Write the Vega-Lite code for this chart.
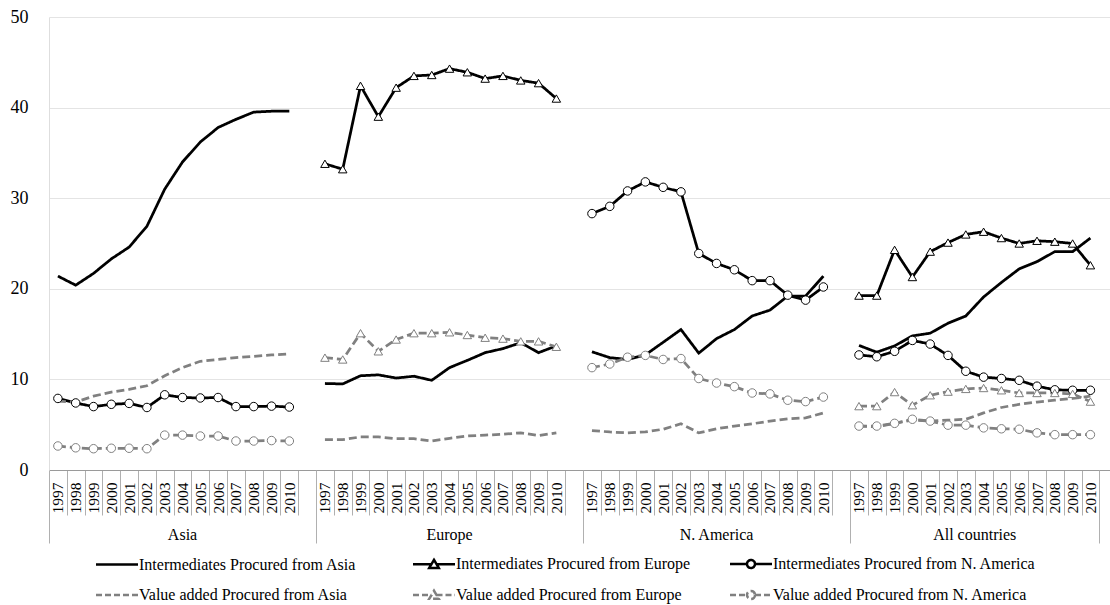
{
  "$schema": "https://vega.github.io/schema/vega-lite/v6.json",
  "width": 1061,
  "height": 453,
  "padding": {"left": 10, "top": 8, "right": 0, "bottom": 0},
  "config": {
    "view": {"stroke": null},
    "font": "Liberation Serif, Times New Roman, serif",
    "axis": {"labelFont": "Liberation Serif, Times New Roman, serif", "titleFont": "Liberation Serif, Times New Roman, serif"},
    "legend": {"labelFont": "Liberation Serif, Times New Roman, serif"}
  },
  "data": {
    "values": [
      {"r": "Asia", "k": "Asia|1997", "IA": 21.4, "IN": 7.9, "VA": 7.6, "VN": 2.65},
      {"r": "Asia", "k": "Asia|1998", "IA": 20.4, "IN": 7.4, "VA": 7.5, "VN": 2.45},
      {"r": "Asia", "k": "Asia|1999", "IA": 21.7, "IN": 7.0, "VA": 8.15, "VN": 2.35},
      {"r": "Asia", "k": "Asia|2000", "IA": 23.3, "IN": 7.25, "VA": 8.6, "VN": 2.4},
      {"r": "Asia", "k": "Asia|2001", "IA": 24.6, "IN": 7.35, "VA": 8.9, "VN": 2.4},
      {"r": "Asia", "k": "Asia|2002", "IA": 26.9, "IN": 6.9, "VA": 9.3, "VN": 2.35},
      {"r": "Asia", "k": "Asia|2003", "IA": 31.0, "IN": 8.3, "VA": 10.4, "VN": 3.85},
      {"r": "Asia", "k": "Asia|2004", "IA": 34.0, "IN": 8.0, "VA": 11.3, "VN": 3.85},
      {"r": "Asia", "k": "Asia|2005", "IA": 36.2, "IN": 7.95, "VA": 12.0, "VN": 3.75},
      {"r": "Asia", "k": "Asia|2006", "IA": 37.8, "IN": 8.0, "VA": 12.2, "VN": 3.75},
      {"r": "Asia", "k": "Asia|2007", "IA": 38.7, "IN": 7.0, "VA": 12.4, "VN": 3.2},
      {"r": "Asia", "k": "Asia|2008", "IA": 39.5, "IN": 7.0, "VA": 12.55, "VN": 3.2},
      {"r": "Asia", "k": "Asia|2009", "IA": 39.6, "IN": 7.05, "VA": 12.7, "VN": 3.25},
      {"r": "Asia", "k": "Asia|2010", "IA": 39.6, "IN": 6.95, "VA": 12.8, "VN": 3.2},
      {"r": "Europe", "k": "Europe|1997", "IA": 9.55, "IE": 33.8, "VA": 3.35, "VE": 12.4},
      {"r": "Europe", "k": "Europe|1998", "IA": 9.5, "IE": 33.2, "VA": 3.35, "VE": 12.2},
      {"r": "Europe", "k": "Europe|1999", "IA": 10.4, "IE": 42.4, "VA": 3.65, "VE": 15.1},
      {"r": "Europe", "k": "Europe|2000", "IA": 10.5, "IE": 39.0, "VA": 3.65, "VE": 13.1},
      {"r": "Europe", "k": "Europe|2001", "IA": 10.15, "IE": 42.2, "VA": 3.45, "VE": 14.4},
      {"r": "Europe", "k": "Europe|2002", "IA": 10.35, "IE": 43.5, "VA": 3.45, "VE": 15.1},
      {"r": "Europe", "k": "Europe|2003", "IA": 9.9, "IE": 43.6, "VA": 3.2, "VE": 15.1},
      {"r": "Europe", "k": "Europe|2004", "IA": 11.3, "IE": 44.3, "VA": 3.5, "VE": 15.2},
      {"r": "Europe", "k": "Europe|2005", "IA": 12.1, "IE": 43.9, "VA": 3.75, "VE": 14.9},
      {"r": "Europe", "k": "Europe|2006", "IA": 12.95, "IE": 43.2, "VA": 3.85, "VE": 14.6},
      {"r": "Europe", "k": "Europe|2007", "IA": 13.4, "IE": 43.5, "VA": 3.95, "VE": 14.5},
      {"r": "Europe", "k": "Europe|2008", "IA": 14.05, "IE": 43.0, "VA": 4.1, "VE": 14.2},
      {"r": "Europe", "k": "Europe|2009", "IA": 12.95, "IE": 42.7, "VA": 3.8, "VE": 14.2},
      {"r": "Europe", "k": "Europe|2010", "IA": 13.7, "IE": 41.0, "VA": 4.1, "VE": 13.6},
      {"r": "N. America", "k": "N. America|1997", "IA": 13.05, "IN": 28.3, "VA": 4.35, "VN": 11.3},
      {"r": "N. America", "k": "N. America|1998", "IA": 12.4, "IN": 29.1, "VA": 4.2, "VN": 11.7},
      {"r": "N. America", "k": "N. America|1999", "IA": 12.2, "IN": 30.8, "VA": 4.1, "VN": 12.45},
      {"r": "N. America", "k": "N. America|2000", "IA": 12.7, "IN": 31.8, "VA": 4.2, "VN": 12.65},
      {"r": "N. America", "k": "N. America|2001", "IA": 14.1, "IN": 31.2, "VA": 4.5, "VN": 12.2},
      {"r": "N. America", "k": "N. America|2002", "IA": 15.5, "IN": 30.7, "VA": 5.1, "VN": 12.3},
      {"r": "N. America", "k": "N. America|2003", "IA": 12.9, "IN": 23.9, "VA": 4.1, "VN": 10.1},
      {"r": "N. America", "k": "N. America|2004", "IA": 14.5, "IN": 22.8, "VA": 4.55, "VN": 9.6},
      {"r": "N. America", "k": "N. America|2005", "IA": 15.5, "IN": 22.1, "VA": 4.85, "VN": 9.2},
      {"r": "N. America", "k": "N. America|2006", "IA": 17.0, "IN": 20.9, "VA": 5.1, "VN": 8.5},
      {"r": "N. America", "k": "N. America|2007", "IA": 17.65, "IN": 20.9, "VA": 5.4, "VN": 8.4},
      {"r": "N. America", "k": "N. America|2008", "IA": 19.2, "IN": 19.3, "VA": 5.65, "VN": 7.7},
      {"r": "N. America", "k": "N. America|2009", "IA": 19.2, "IN": 18.75, "VA": 5.75, "VN": 7.55},
      {"r": "N. America", "k": "N. America|2010", "IA": 21.4, "IN": 20.2, "VA": 6.3, "VN": 8.05},
      {"r": "All countries", "k": "All countries|1997", "IA": 13.75, "IE": 19.25, "IN": 12.7, "VA": 4.85, "VE": 7.05, "VN": 4.85},
      {"r": "All countries", "k": "All countries|1998", "IA": 13.0, "IE": 19.25, "IN": 12.5, "VA": 4.75, "VE": 7.05, "VN": 4.85},
      {"r": "All countries", "k": "All countries|1999", "IA": 13.7, "IE": 24.3, "IN": 13.1, "VA": 5.15, "VE": 8.6, "VN": 5.15},
      {"r": "All countries", "k": "All countries|2000", "IA": 14.8, "IE": 21.3, "IN": 14.3, "VA": 5.5, "VE": 7.15, "VN": 5.6},
      {"r": "All countries", "k": "All countries|2001", "IA": 15.1, "IE": 24.1, "IN": 13.9, "VA": 5.4, "VE": 8.25, "VN": 5.4},
      {"r": "All countries", "k": "All countries|2002", "IA": 16.2, "IE": 25.1, "IN": 12.65, "VA": 5.5, "VE": 8.65, "VN": 4.95},
      {"r": "All countries", "k": "All countries|2003", "IA": 17.0, "IE": 26.0, "IN": 10.9, "VA": 5.6, "VE": 8.95, "VN": 4.95},
      {"r": "All countries", "k": "All countries|2004", "IA": 19.1, "IE": 26.3, "IN": 10.25, "VA": 6.3, "VE": 9.05, "VN": 4.65},
      {"r": "All countries", "k": "All countries|2005", "IA": 20.7, "IE": 25.6, "IN": 10.1, "VA": 6.9, "VE": 8.8, "VN": 4.55},
      {"r": "All countries", "k": "All countries|2006", "IA": 22.2, "IE": 25.0, "IN": 9.9, "VA": 7.25, "VE": 8.5, "VN": 4.5},
      {"r": "All countries", "k": "All countries|2007", "IA": 23.0, "IE": 25.3, "IN": 9.25, "VA": 7.5, "VE": 8.5, "VN": 4.1},
      {"r": "All countries", "k": "All countries|2008", "IA": 24.1, "IE": 25.2, "IN": 8.85, "VA": 7.7, "VE": 8.5, "VN": 3.9},
      {"r": "All countries", "k": "All countries|2009", "IA": 24.1, "IE": 25.0, "IN": 8.8, "VA": 7.9, "VE": 8.4, "VN": 3.9},
      {"r": "All countries", "k": "All countries|2010", "IA": 25.6, "IE": 22.6, "IN": 8.8, "VA": 8.15, "VE": 7.55, "VN": 3.9}
    ]
  },
  "transform": [
    {"fold": ["IA", "IE", "IN", "VA", "VE", "VN"], "as": ["s", "v"]},
    {"filter": "isValid(datum.v)"}
  ],
  "encoding": {
    "y": {
      "field": "v",
      "type": "quantitative",
      "scale": {"domain": [0, 50], "nice": false, "zero": true},
      "axis": {
        "values": [0, 10, 20, 30, 40, 50],
        "title": null,
        "ticks": false,
        "grid": true,
        "gridColor": "#e4e4e4",
        "domainColor": "#dedede",
        "labelPadding": 21,
        "labelFontSize": 18,
        "labelColor": "#000"
      }
    }
  },
  "layer": [
    {
      "mark": {"type": "line", "strokeWidth": 2.75},
      "encoding": {
        "x": {
          "field": "k",
          "type": "ordinal",
          "scale": {
            "type": "band",
            "paddingInner": 0,
            "paddingOuter": 0.3,
            "align": 0,
            "domain": ["Asia|1997","Asia|1998","Asia|1999","Asia|2000","Asia|2001","Asia|2002","Asia|2003","Asia|2004","Asia|2005","Asia|2006","Asia|2007","Asia|2008","Asia|2009","Asia|2010","Asia|",
                       "Europe|1997","Europe|1998","Europe|1999","Europe|2000","Europe|2001","Europe|2002","Europe|2003","Europe|2004","Europe|2005","Europe|2006","Europe|2007","Europe|2008","Europe|2009","Europe|2010","Europe|",
                       "N. America|1997","N. America|1998","N. America|1999","N. America|2000","N. America|2001","N. America|2002","N. America|2003","N. America|2004","N. America|2005","N. America|2006","N. America|2007","N. America|2008","N. America|2009","N. America|2010","N. America|",
                       "All countries|1997","All countries|1998","All countries|1999","All countries|2000","All countries|2001","All countries|2002","All countries|2003","All countries|2004","All countries|2005","All countries|2006","All countries|2007","All countries|2008","All countries|2009","All countries|2010"]
          },
          "axis": {
            "title": null,
            "tickBand": "extent",
            "labelExpr": "split(datum.value, '|')[1]",
            "labelAngle": -90,
            "labelAlign": "right",
            "labelBaseline": "middle",
            "labelFontSize": 15.5,
            "labelColor": "#000",
            "labelPadding": -33,
            "labelOverlap": false,
            "labelBound": false,
            "tickSize": 45,
            "tickColor": "#b0b0b0",
            "domainColor": "#9a9a9a",
            "grid": false
          }
        },
        "color": {
          "field": "s",
          "type": "nominal",
          "scale": {"domain": ["IA","IE","IN","VA","VE","VN"], "range": ["#000000","#000000","#000000","#808080","#808080","#808080"]},
          "legend": null
        },
        "strokeDash": {
          "field": "s",
          "type": "nominal",
          "scale": {"domain": ["IA","IE","IN","VA","VE","VN"], "range": [[1,0],[1,0],[1,0],[8,4],[8,4],[8,4]]},
          "legend": null
        },
        "detail": {"field": "r"}
      }
    },
    {
      "transform": [{"filter": "datum.s != 'IA' && datum.s != 'VA'"}],
      "mark": {"type": "point", "filled": false, "fill": "white", "strokeWidth": 1, "size": 72, "opacity": 1},
      "encoding": {
        "x": {
          "field": "k",
          "type": "ordinal",
          "scale": {
            "type": "band",
            "paddingInner": 0,
            "paddingOuter": 0.3,
            "align": 0,
            "domain": ["Asia|1997","Asia|1998","Asia|1999","Asia|2000","Asia|2001","Asia|2002","Asia|2003","Asia|2004","Asia|2005","Asia|2006","Asia|2007","Asia|2008","Asia|2009","Asia|2010","Asia|",
                       "Europe|1997","Europe|1998","Europe|1999","Europe|2000","Europe|2001","Europe|2002","Europe|2003","Europe|2004","Europe|2005","Europe|2006","Europe|2007","Europe|2008","Europe|2009","Europe|2010","Europe|",
                       "N. America|1997","N. America|1998","N. America|1999","N. America|2000","N. America|2001","N. America|2002","N. America|2003","N. America|2004","N. America|2005","N. America|2006","N. America|2007","N. America|2008","N. America|2009","N. America|2010","N. America|",
                       "All countries|1997","All countries|1998","All countries|1999","All countries|2000","All countries|2001","All countries|2002","All countries|2003","All countries|2004","All countries|2005","All countries|2006","All countries|2007","All countries|2008","All countries|2009","All countries|2010"]
          },
          "axis": null
        },
        "color": {
          "field": "s",
          "type": "nominal",
          "scale": {"domain": ["IE","IN","VE","VN"], "range": ["#000000","#000000","#808080","#808080"]},
          "legend": null
        },
        "shape": {
          "field": "s",
          "type": "nominal",
          "scale": {"domain": ["IE","IN","VE","VN"], "range": ["triangle-up","circle","triangle-up","circle"]},
          "legend": null
        }
      }
    },
    {
      "transform": [{"filter": "datum.v < -999"}],
      "mark": {"type": "point", "filled": false, "fill": "white", "strokeWidth": 2.5, "opacity": 1},
      "encoding": {
        "x": {
          "field": "k",
          "type": "ordinal",
          "scale": {
            "type": "band",
            "paddingInner": 0,
            "paddingOuter": 0.3,
            "align": 0,
            "domain": ["Asia|1997","Asia|1998","Asia|1999","Asia|2000","Asia|2001","Asia|2002","Asia|2003","Asia|2004","Asia|2005","Asia|2006","Asia|2007","Asia|2008","Asia|2009","Asia|2010","Asia|",
                       "Europe|1997","Europe|1998","Europe|1999","Europe|2000","Europe|2001","Europe|2002","Europe|2003","Europe|2004","Europe|2005","Europe|2006","Europe|2007","Europe|2008","Europe|2009","Europe|2010","Europe|",
                       "N. America|1997","N. America|1998","N. America|1999","N. America|2000","N. America|2001","N. America|2002","N. America|2003","N. America|2004","N. America|2005","N. America|2006","N. America|2007","N. America|2008","N. America|2009","N. America|2010","N. America|",
                       "All countries|1997","All countries|1998","All countries|1999","All countries|2000","All countries|2001","All countries|2002","All countries|2003","All countries|2004","All countries|2005","All countries|2006","All countries|2007","All countries|2008","All countries|2009","All countries|2010"]
          },
          "axis": {
            "orient": "bottom",
            "title": null,
            "values": ["Asia|1997", "Europe|1997", "N. America|1997", "All countries|1997"],
            "bandPosition": 0,
            "labelExpr": "split(datum.value, '|')[0]",
            "ticks": true,
            "tickSize": 73,
            "tickColor": "#b0b0b0",
            "domain": false,
            "grid": false,
            "labelAngle": 0,
            "labelAlign": "center",
            "labelBaseline": "alphabetic",
            "labelPadding": -4,
            "labelFontSize": 16,
            "labelColor": "#000",
            "labelOverlap": false,
            "labelOffset": {"condition": {"test": "indexof(datum.value, 'All countries') >= 0", "value": 115.7}, "value": 124.6}
          }
        },
        "color": {
          "field": "s",
          "type": "nominal",
          "scale": {"domain": ["IA","IE","IN","VA","VE","VN"], "range": ["#000000","#000000","#000000","#808080","#808080","#808080"]},
          "legend": {
            "title": null, "orient": "none", "legendX": 45, "legendY": 539, "columns": 3, "direction": "horizontal", "gridAlign": "all",
            "symbolSize": 100, "symbolOffset": 15, "labelOffset": 14, "symbolStrokeWidth": 2.5, "symbolFillColor": "white",
            "labelFontSize": 16, "labelColor": "#000", "labelLimit": 0, "columnPadding": 6, "rowPadding": 12,
            "labelExpr": "{'IA': 'Intermediates Procured from Asia', 'IE': 'Intermediates Procured from Europe', 'IN': 'Intermediates Procured from N. America', 'VA': 'Value added Procured from Asia', 'VE': 'Value added Procured from Europe', 'VN': 'Value added Procured from N. America'}[datum.value]"
          }
        },
        "strokeDash": {
          "field": "s",
          "type": "nominal",
          "scale": {"domain": ["IA","IE","IN","VA","VE","VN"], "range": [[1,0],[1,0],[1,0],[6,3],[6,3],[6,3]]},
          "legend": {
            "title": null, "orient": "none", "legendX": 45, "legendY": 539, "columns": 3, "direction": "horizontal", "gridAlign": "all",
            "symbolSize": 100, "symbolOffset": 15, "labelOffset": 14, "symbolStrokeWidth": 2.5, "symbolFillColor": "white",
            "labelFontSize": 16, "labelColor": "#000", "labelLimit": 0, "columnPadding": 6, "rowPadding": 12,
            "labelExpr": "{'IA': 'Intermediates Procured from Asia', 'IE': 'Intermediates Procured from Europe', 'IN': 'Intermediates Procured from N. America', 'VA': 'Value added Procured from Asia', 'VE': 'Value added Procured from Europe', 'VN': 'Value added Procured from N. America'}[datum.value]"
          }
        },
        "shape": {
          "field": "s",
          "type": "nominal",
          "scale": {
            "domain": ["IA","IE","IN","VA","VE","VN"],
            "range": [
              "M-4.2,0L4.2,0",
              "M-4.2,0L-0.5,0M0.5,0L4.2,0M0,-0.85L0.95,0.75L-0.95,0.75Z",
              "M-4.2,0L-0.8,0M0.8,0L4.2,0M0.8,0A0.8,0.8,0,1,1,-0.8,0A0.8,0.8,0,1,1,0.8,0Z",
              "M-4.2,0L4.2,0",
              "M-4.2,0L-0.5,0M0.5,0L4.2,0M0,-0.85L0.95,0.75L-0.95,0.75Z",
              "M-4.2,0L-0.8,0M0.8,0L4.2,0M0.8,0A0.8,0.8,0,1,1,-0.8,0A0.8,0.8,0,1,1,0.8,0Z"
            ]
          },
          "legend": {
            "title": null, "orient": "none", "legendX": 45, "legendY": 539, "columns": 3, "direction": "horizontal", "gridAlign": "all",
            "symbolSize": 100, "symbolOffset": 15, "labelOffset": 14, "symbolStrokeWidth": 2.5, "symbolFillColor": "white",
            "labelFontSize": 16, "labelColor": "#000", "labelLimit": 0, "columnPadding": 6, "rowPadding": 12,
            "labelExpr": "{'IA': 'Intermediates Procured from Asia', 'IE': 'Intermediates Procured from Europe', 'IN': 'Intermediates Procured from N. America', 'VA': 'Value added Procured from Asia', 'VE': 'Value added Procured from Europe', 'VN': 'Value added Procured from N. America'}[datum.value]"
          }
        }
      }
    },
    {
      "transform": [{"filter": "datum.v < -999"}],
      "mark": {"type": "point"},
      "encoding": {
        "x": {
          "field": "k",
          "type": "ordinal",
          "scale": {
            "type": "band",
            "paddingInner": 0,
            "paddingOuter": 0.3,
            "align": 0,
            "domain": ["Asia|1997","Asia|1998","Asia|1999","Asia|2000","Asia|2001","Asia|2002","Asia|2003","Asia|2004","Asia|2005","Asia|2006","Asia|2007","Asia|2008","Asia|2009","Asia|2010","Asia|",
                       "Europe|1997","Europe|1998","Europe|1999","Europe|2000","Europe|2001","Europe|2002","Europe|2003","Europe|2004","Europe|2005","Europe|2006","Europe|2007","Europe|2008","Europe|2009","Europe|2010","Europe|",
                       "N. America|1997","N. America|1998","N. America|1999","N. America|2000","N. America|2001","N. America|2002","N. America|2003","N. America|2004","N. America|2005","N. America|2006","N. America|2007","N. America|2008","N. America|2009","N. America|2010","N. America|",
                       "All countries|1997","All countries|1998","All countries|1999","All countries|2000","All countries|2001","All countries|2002","All countries|2003","All countries|2004","All countries|2005","All countries|2006","All countries|2007","All countries|2008","All countries|2009","All countries|2010"]
          },
          "axis": {
            "orient": "bottom",
            "title": null,
            "values": ["All countries|2010"],
            "bandPosition": 1,
            "labels": false,
            "ticks": true,
            "tickSize": 73,
            "tickColor": "#b0b0b0",
            "domain": false,
            "grid": false
          }
        }
      }
    }
  ],
  "resolve": {
    "scale": {"color": "independent", "shape": "independent", "strokeDash": "independent"},
    "axis": {"x": "independent"},
    "legend": {"color": "independent", "shape": "independent", "strokeDash": "independent"}
  }
}
